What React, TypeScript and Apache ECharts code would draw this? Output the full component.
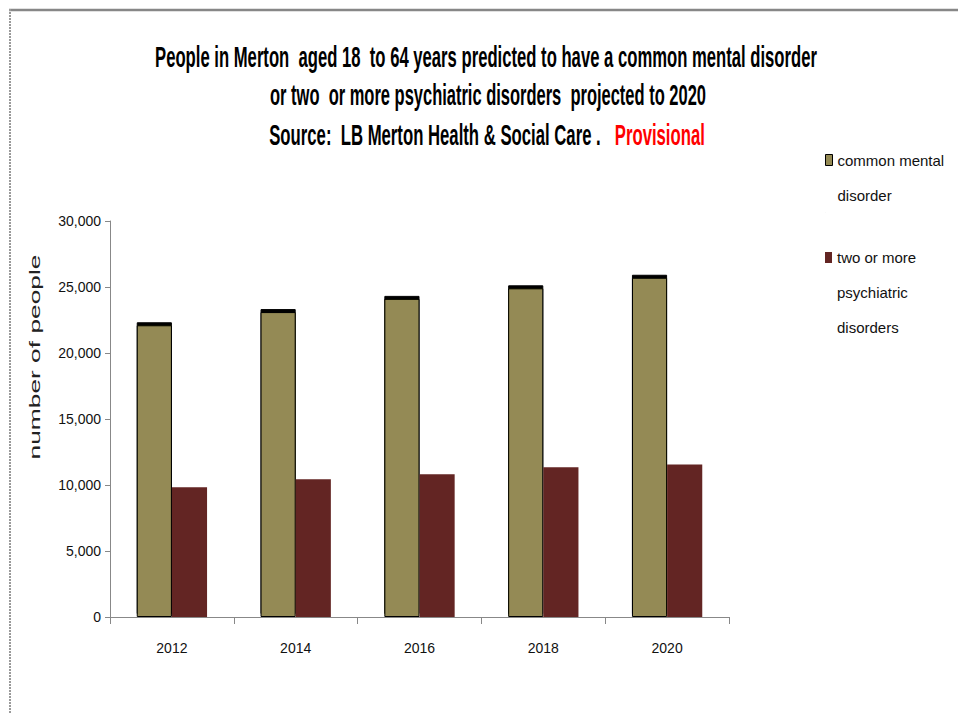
import React, { useEffect, useRef } from "react";
import * as echarts from "echarts";

const years = ["2012", "2014", "2016", "2018", "2020"];
const commonMental = [22100, 23100, 24100, 24900, 25700];
const twoOrMore = [9830, 10430, 10810, 11340, 11560];
const seriesNames = ["common mental disorder", "two or more psychiatric disorders"];
const legendLabels = ["common mental\ndisorder", "two or more\npsychiatric\ndisorders"];
const titleLines = [
  "People in Merton  aged 18  to 64 years predicted to have a common mental disorder",
  "or two  or more psychiatric disorders  projected to 2020",
];
const sourceText = "Source:  LB Merton Health & Social Care .   ";
const provisionalText = "Provisional";
const yAxisTitle = "number of people";

const SANS = '"Liberation Sans", Arial, sans-serif';

function measure(text: string, font: string): number {
  const c = document.createElement("canvas");
  const ctx = c.getContext("2d");
  if (!ctx) return text.length * 8;
  ctx.font = font;
  return ctx.measureText(text).width;
}

// legend icon: square placed beside the first text line, with tiny invisible anchors
// stretching the icon's bounding box to the full height of the text block
function iconPath(h: number): string {
  return `path://M0 0 L0.01 0 L0.01 0.01 Z M0 12 L7 12 L7 23 L0 23 Z M0 ${h - 0.01} L0.01 ${h - 0.01} L0.01 ${h} Z`;
}

export default function App() {
  const ref = useRef<HTMLDivElement>(null);
  useEffect(() => {
    if (!ref.current) return;
    const chart = echarts.init(ref.current, undefined, { renderer: "svg" });
    const titleFont = `bold 18px ${SANS}`;
    const sx1 = 662 / Math.max(1, measure(titleLines[0], titleFont));
    const sx2 = 436 / Math.max(1, measure(titleLines[1], titleFont));
    const sx3 = 436 / Math.max(1, measure(sourceText + provisionalText, titleFont));
    const nameSx = 205 / Math.max(1, measure(yAxisTitle, `14px ${SANS}`));
    const sy = 1.6;

    const legendText = {
      fontFamily: SANS,
      fontSize: 15,
      color: "#111",
      lineHeight: 35,
    };

    chart.setOption({
      animation: false,
      backgroundColor: "#ffffff",
      grid: { left: 110, right: 229, top: 221, bottom: 97, containLabel: false },
      legend: [
        {
          data: [{ name: seriesNames[0], icon: iconPath(70) }],
          orient: "vertical",
          left: 825,
          top: 142,
          padding: 0,
          itemWidth: 7,
          itemHeight: 70,
          itemGap: 0,
          formatter: () => legendLabels[0],
          itemStyle: {
            color: "#948A54",
            borderColor: "#000000",
            borderWidth: 1,
            shadowColor: "rgba(0,0,0,0)",
            shadowBlur: 0,
            shadowOffsetY: 0,
          },
          textStyle: legendText,
        },
        {
          data: [{ name: seriesNames[1], icon: iconPath(105) }],
          orient: "vertical",
          left: 825,
          top: 240,
          padding: 0,
          itemWidth: 7,
          itemHeight: 105,
          itemGap: 0,
          formatter: () => legendLabels[1],
          itemStyle: { color: "#632523", borderWidth: 0 },
          textStyle: legendText,
        },
      ],
      xAxis: {
        type: "category",
        data: years,
        axisLine: { show: true, lineStyle: { color: "#888888", width: 1 } },
        axisTick: { show: true, length: 7, alignWithLabel: false, lineStyle: { color: "#888888" } },
        axisLabel: { fontFamily: SANS, fontSize: 14, color: "#111", margin: 24 },
      },
      yAxis: {
        type: "value",
        min: 0,
        max: 30000,
        interval: 5000,
        splitLine: { show: false },
        axisLine: { show: true, lineStyle: { color: "#888888", width: 1 } },
        axisTick: { show: true, length: 5, lineStyle: { color: "#888888" } },
        axisLabel: {
          fontFamily: SANS,
          fontSize: 14,
          color: "#111",
          margin: 9,
          formatter: (v: number) => v.toLocaleString("en-GB"),
        },
      },
      series: [
        {
          name: seriesNames[0],
          type: "bar",
          data: commonMental,
          barWidth: "28.4%",
          barGap: "0%",
          itemStyle: {
            color: "#948A54",
            borderColor: "#000000",
            borderWidth: 1,
            shadowColor: "#000000",
            shadowBlur: 0,
            shadowOffsetY: -3,
          },
        },
        {
          name: seriesNames[1],
          type: "bar",
          data: twoOrMore,
          barWidth: "28.4%",
          barGap: "0%",
          itemStyle: { color: "#632523" },
        },
      ],
      graphic: [
        {
          type: "line",
          shape: { x1: 9, y1: 10, x2: 958, y2: 10 },
          style: { stroke: "#878787", lineWidth: 2.5 },
          silent: true,
        },
        {
          type: "line",
          shape: { x1: 10, y1: 9, x2: 10, y2: 714 },
          style: { stroke: "#9a9a9a", lineWidth: 2, lineDash: [2, 1] },
          silent: true,
        },
        {
          type: "text",
          x: 486,
          y: 57,
          scaleX: sx1,
          scaleY: sy,
          style: {
            text: titleLines[0],
            font: titleFont,
            fill: "#000",
            align: "center",
            verticalAlign: "middle",
          },
        },
        {
          type: "text",
          x: 488,
          y: 95,
          scaleX: sx2,
          scaleY: sy,
          style: {
            text: titleLines[1],
            font: titleFont,
            fill: "#000",
            align: "center",
            verticalAlign: "middle",
          },
        },
        {
          type: "text",
          x: 487,
          y: 135,
          scaleX: sx3,
          scaleY: sy,
          style: {
            text: `{a|${sourceText}}{b|${provisionalText}}`,
            font: titleFont,
            align: "center",
            verticalAlign: "middle",
            rich: {
              a: { font: titleFont, fill: "#000" },
              b: { font: titleFont, fill: "#ff0000" },
            },
          },
        },
        {
          type: "text",
          x: 35,
          y: 357,
          rotation: Math.PI / 2,
          scaleX: nameSx,
          style: {
            text: yAxisTitle,
            font: `14px ${SANS}`,
            fill: "#222",
            align: "center",
            verticalAlign: "middle",
          },
        },
      ],
    });
    return () => chart.dispose();
  }, []);
  return <div ref={ref} style={{ width: 958, height: 714, position: "absolute", left: 0, top: 0 }} />;
}
